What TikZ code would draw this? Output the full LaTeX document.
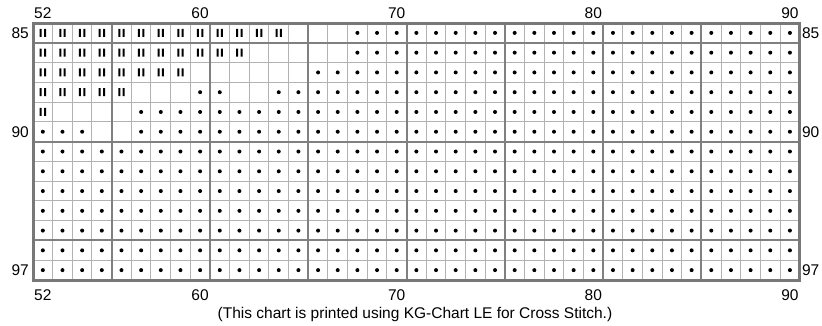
\documentclass[tikz,border=0pt]{standalone}
\usepackage{fontspec}
\setmainfont{Liberation Sans}
\definecolor{finegray}{RGB}{178,178,178}
\definecolor{blockgray}{RGB}{128,128,128}
\definecolor{framegray}{RGB}{120,120,120}
\begin{document}
\begin{tikzpicture}[x=19.66pt, y=-19.77pt,
  fine line/.style={draw=finegray, line width=1pt},
  block line/.style={draw=blockgray, line width=2pt},
  frame line/.style={draw=framegray, line width=3pt},
  numlabel/.style={inner sep=0pt, font=\fontsize{15.5}{18}\selectfont}]

\useasboundingbox (-33pt,23pt) rectangle (789pt,-302pt);

% grid
\foreach \i in {1, ..., 38}
  \draw[fine line] (\i, 0) -- (\i, 13);
\foreach \j in {1, ..., 12}
  \draw[fine line] (0, \j) -- (39, \j);
\foreach \i in {4, 9, ..., 34}
  \draw[block line] (\i, 0) -- (\i, 13);
\foreach \j in {1, 6, 11}
  \draw[block line] (0, \j) -- (39, \j);
\draw[frame line] (0, 0) rectangle (39, 13);

% stitches
\foreach \r/\last in {85/64, 86/62, 87/59, 88/56, 89/52} {
  \foreach \c in {52, ..., \last}
    \fill[shift={(\c-51.5, \r-84.5)}] (-3.2pt, -4pt) rectangle (-1.2pt, 4pt)
      (1.2pt, -4pt) rectangle (3.2pt, 4pt);
}
\foreach \r/\first in {85/68, 86/68, 87/66, 88/64, 89/57, 90/57} {
  \foreach \c in {\first, ..., 90}
    \fill (\c-51.5, \r-84.5) circle (2pt);
}
\foreach \r in {91, ..., 97} {
  \foreach \c in {52, ..., 90}
    \fill (\c-51.5, \r-84.5) circle (2pt);
}
\foreach \c/\r in {60/88, 61/88, 52/90, 53/90, 54/90}
  \fill (\c-51.5, \r-84.5) circle (2pt);

% labels
\foreach \c in {52, 60, 70, 80, 90} {
  \node[numlabel] (top \c) at (\c-51.5, -0.51) {\c};
  \node[numlabel] (bottom \c) at (\c-51.5, 13.76) {\c};
}
\foreach \r in {85, 90, 97} {
  \node[numlabel, anchor=east] (left \r) at (-0.2, \r-84.5) {\r};
  \node[numlabel, anchor=west] (right \r) at (39.11, \r-84.5) {\r};
}
\node[numlabel] (footer) at (19.43, 14.72) {(This chart is printed using KG-Chart LE for Cross Stitch.)};
\end{tikzpicture}
\end{document}
